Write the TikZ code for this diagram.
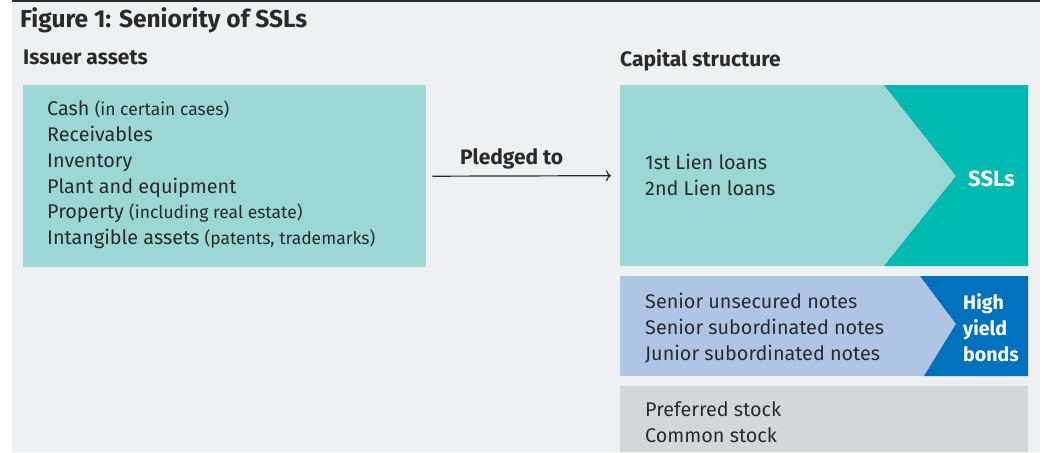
\documentclass[tikz,border=0pt]{standalone}
\usepackage{fontspec}
\setmainfont{Fira Sans}
\usetikzlibrary{positioning,arrows.meta}
\definecolor{pagegrey}{HTML}{EFF0F2}
\definecolor{inkgrey}{HTML}{2A2A2A}
\definecolor{tealpale}{HTML}{9AD7D5}
\definecolor{tealdeep}{HTML}{00B9B1}
\definecolor{bluepale}{HTML}{AFC5E6}
\definecolor{bluedeep}{HTML}{0071BC}
\definecolor{stockgrey}{HTML}{D5D6D8}

% smaller remark after an item
\newcommand{\aside}[1]{{\fontsize{17.5}{25.8}\selectfont #1}}

\begin{document}
\begin{tikzpicture}[x=1pt, y=-1pt,
    tier/.style={anchor=north west, inner sep=0pt, draw=none},
    items/.style={anchor=west, align=left, inner sep=0pt, text=inkgrey,
        font=\fontsize{19.8}{25.8}\selectfont},
    heading/.style={anchor=west, inner sep=0pt, text=inkgrey,
        font=\fontsize{21}{24}\selectfont\bfseries},
    badge/.style={anchor=west, align=left, inner sep=0pt, text=white,
        font=\fontsize{19.6}{25.8}\selectfont\bfseries}]
    \useasboundingbox (0,0) rectangle (1043,452);

    % page and rule on top
    \fill[pagegrey] (12,0) rectangle (1040,452);
    \draw[inkgrey, line width=2pt] (12,1) -- (1040,1);
    \node[heading, font=\fontsize{24.5}{28}\selectfont\bfseries] (title) at (20,20) {Figure 1: Seniority of SSLs};

    % Issuer assets
    \node[heading] (assethead) at (23,57) {Issuer assets};
    \node[tier, fill=tealpale, minimum width=403, minimum height=182] (assets) at (23,85) {};
    \node[items] (assetlist) at (47,175) {Cash \aside{(in certain cases)}\\
        Receivables\\
        Inventory\\
        Plant and equipment\\
        Property \aside{(including real estate)}\\
        Intangible assets \aside{(patents, trademarks)}};

    % Capital structure
    \node[heading] (capitalhead) at (620,60) {Capital structure};

    % secured loans
    \node[tier, fill=tealpale, minimum width=408, minimum height=181] (liens) at (620,85) {};
    \fill[tealdeep] (884,85) -- (1028,85) -- (1028,266) -- (884,266) -- (956,176) -- cycle;
    \node[items] (lienlist) at (645,175) {1st Lien loans\\ 2nd Lien loans};
    \node[badge, font=\fontsize{22}{25.8}\selectfont\bfseries] (ssl) at (968,179) {SSLs};

    % bonds
    \node[tier, fill=bluepale, minimum width=408, minimum height=100] (notes) at (620,276) {};
    \fill[bluedeep] (920,276) -- (1028,276) -- (1028,376) -- (924,376) -- (956,324) -- cycle;
    \node[items] (notelist) at (645,328) {Senior unsecured notes\\
        Senior subordinated notes\\
        Junior subordinated notes};
    \node[badge] (hyb) at (963,328) {High\\ yield\\ bonds};

    % equity
    \node[tier, fill=stockgrey, minimum width=408, minimum height=66] (stock) at (620,386) {};
    \node[items] (stocklist) at (645,422) {Preferred stock\\ Common stock};

    % pledge arrow
    \draw[inkgrey, line width=1.2pt, -{To[length=5pt, width=11pt]}]
        ([xshift=6pt]assets.east) -- ([xshift=-9pt]liens.west)
        node[midway, above=6pt, xshift=-10pt, heading, anchor=south] (pledge) {Pledged to};
\end{tikzpicture}
\end{document}
